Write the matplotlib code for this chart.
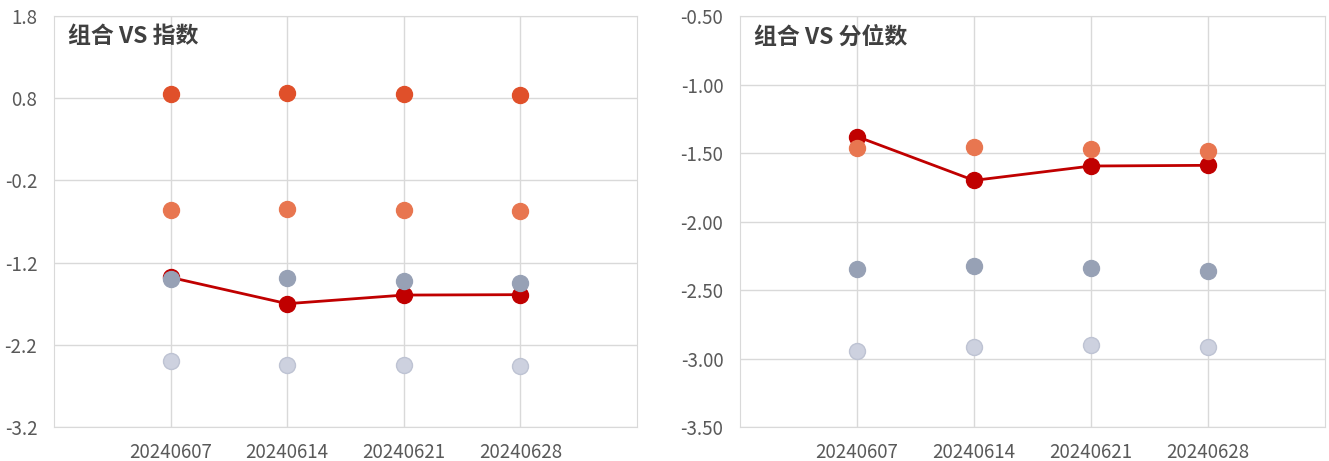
import numpy as np
import matplotlib.pyplot as plt

plt.rcParams['font.family'] = ['Noto Sans CJK SC', 'DejaVu Sans']

dates = ['20240607', '20240614', '20240621', '20240628']

# 组合 VS 指数
idx_top = [0.85, 0.86, 0.85, 0.84]
idx_mid = [-0.56, -0.55, -0.56, -0.57]
idx_low = [-1.40, -1.39, -1.42, -1.45]
idx_bot = [-2.40, -2.45, -2.45, -2.46]

# 组合 VS 分位数
q_top = [-1.46, -1.455, -1.47, -1.485]
q_low = [-2.35, -2.325, -2.34, -2.36]
q_bot = [-2.945, -2.915, -2.90, -2.915]

# 组合
port = [-1.38, -1.70, -1.595, -1.59]

grid_c = '#D9D9D9'
text_c = '#595959'

fig = plt.figure(figsize=(13.29, 4.61), dpi=100)
ax1 = fig.add_axes([54 / 1329, 34 / 461, 583 / 1329, 411 / 461])
ax2 = fig.add_axes([740 / 1329, 34 / 461, 585 / 1329, 411 / 461])

x = np.arange(1, len(dates) + 1)


def dots(ax, y, color, edge=None):
    ax.plot(x, y, 'o', color=color, markersize=11.5,
            markeredgecolor=edge or color, markeredgewidth=1, linestyle='none', zorder=3)


def style(ax, title, ticks, fmt):
    ax.set_xlim(0, 5)
    ax.set_ylim(ticks[0], ticks[-1])
    ax.set_yticks(ticks)
    ax.set_yticklabels([fmt.format(t) for t in ticks])
    ax.set_xticks(x)
    ax.set_xticklabels(dates)
    ax.grid(True, color=grid_c, linewidth=1)
    ax.set_axisbelow(True)
    for s in ax.spines.values():
        s.set_color(grid_c)
    ax.tick_params(length=0, colors=text_c, labelsize=13.5)
    ax.tick_params(axis='x', pad=11)
    ax.tick_params(axis='y', pad=12)
    ax.text(0.024, 0.949, title, transform=ax.transAxes, fontsize=16.5,
            fontweight='bold', color='#404040', va='center', ha='left')


# left
ax1.plot(x, port, '-', color='#C00000', linewidth=2, zorder=2)
ax1.plot(x, port, 'o', color='#C00000', markersize=11.5, zorder=2)
dots(ax1, idx_top, '#E0502A')
dots(ax1, idx_mid, '#E87650')
dots(ax1, idx_low, '#97A1B5')
dots(ax1, idx_bot, '#CDD1DF', '#BEC3D3')
style(ax1, '组合 VS 指数', [-3.2, -2.2, -1.2, -0.2, 0.8, 1.8], '{:.1f}')

# right
ax2.plot(x, port, '-', color='#C00000', linewidth=2, zorder=2)
ax2.plot(x, port, 'o', color='#C00000', markersize=11.5, zorder=2)
dots(ax2, q_top, '#E87650')
dots(ax2, q_low, '#97A1B5')
dots(ax2, q_bot, '#CDD1DF', '#BEC3D3')
style(ax2, '组合 VS 分位数', [-3.5, -3.0, -2.5, -2.0, -1.5, -1.0, -0.5], '{:.2f}')

fig.savefig('out.png', dpi=100)
